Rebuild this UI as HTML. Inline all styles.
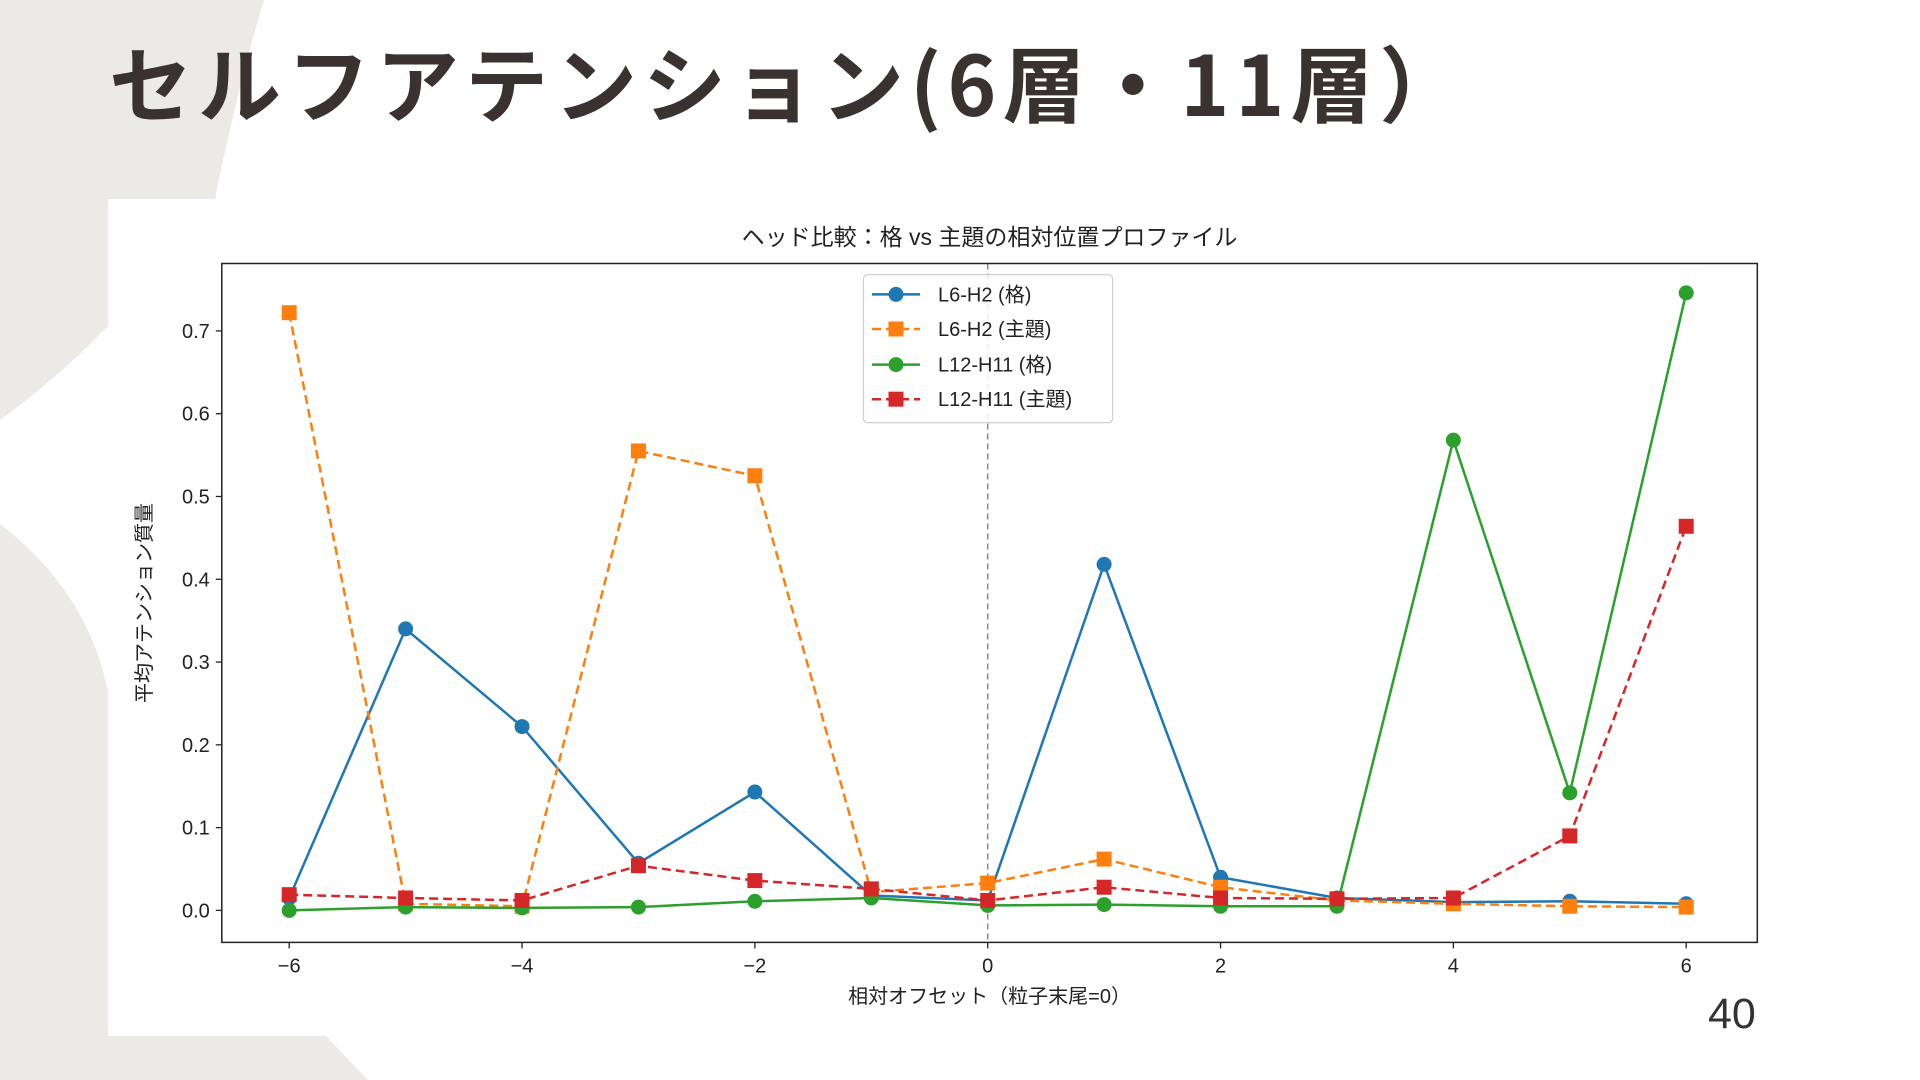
<!DOCTYPE html>
<html><head><meta charset="utf-8">
<style>
html,body{margin:0;padding:0;width:1920px;height:1080px;overflow:hidden;background:#fff;}
body{position:relative;font-family:"Liberation Sans","Noto Sans CJK JP",sans-serif;}
#title{position:absolute;left:109px;top:20px;font-size:83px;font-weight:bold;color:#3a3230;letter-spacing:6px;white-space:nowrap;font-family:"Noto Sans CJK JP","Liberation Sans",sans-serif;}
#page{position:absolute;left:1708px;top:990px;font-size:43px;color:#333;}
svg text{font-family:"Liberation Sans","Noto Sans CJK JP",sans-serif;}
</style></head><body>
<svg width="1920" height="1080" style="position:absolute;left:0;top:0">
<path d="M0 0 L264 0 Q237 90 215 199 L108 199 L108 326 Q60 376 0 420 Z" fill="#ebeae6"/>
<path d="M0 524 Q89 593 108 692 L108 1036 L326 1036 L368 1080 L0 1080 Z" fill="#ebeae6"/>
<rect x="108" y="199" width="1812" height="837" fill="#fff"/>
</svg>
<div id="title">セルフアテンション(6層・11層）</div>
<svg id="chart" width="1920" height="1080" style="position:absolute;left:0;top:0"></svg>
<div id="page">40</div>
<script>
const xCats=[-6,-5,-4,-3,-2,-1,0,1,2,3,4,5,6];
const l6Case=[0.015,0.34,0.222,0.057,0.143,0.018,0.012,0.418,0.04,0.015,0.01,0.011,0.008];
const l6Topic=[0.722,0.008,0.005,0.555,0.525,0.022,0.033,0.062,0.028,0.012,0.008,0.005,0.004];
const l12Case=[0.0,0.004,0.003,0.004,0.011,0.015,0.006,0.007,0.005,0.005,0.568,0.142,0.746];
const l12Topic=[0.019,0.015,0.012,0.054,0.036,0.026,0.012,0.028,0.015,0.014,0.015,0.09,0.464];
const yTicks=[0.0,0.1,0.2,0.3,0.4,0.5,0.6,0.7];
const xTicks=[-6,-4,-2,0,2,4,6];
const seriesNames=["L6-H2 (格)","L6-H2 (主題)","L12-H11 (格)","L12-H11 (主題)"];

const svg=document.getElementById('chart');
const NS='http://www.w3.org/2000/svg';
const L=221.8,R=1757.3,T=263.5,B=942.4;
const X=v=>289.2+(v+6)*(1686.2-289.2)/12;
const Y=v=>910.4-v*(910.4-330.9)/0.7;
function mk(tag,attrs,parent){const e=document.createElementNS(NS,tag);for(const k in attrs)e.setAttribute(k,attrs[k]);(parent||svg).appendChild(e);return e;}

let t=mk('text',{x:(L+R)/2,y:245,'text-anchor':'middle','font-size':23,fill:'#222'});
t.textContent='ヘッド比較：格 vs 主題の相対位置プロファイル';



yTicks.forEach(v=>{
  const g=mk('g',{});
  
  
  mk('line',{x1:L-6,x2:L,y1:Y(v),y2:Y(v),stroke:'#222','stroke-width':1.3},g);
  const tx=mk('text',{x:L-12,y:Y(v)+7,'text-anchor':'end','font-size':20,fill:'#222'},g);
  tx.textContent=v.toFixed(1);
});
xTicks.forEach(v=>{
  const g=mk('g',{});
  
  
  mk('line',{x1:X(v),x2:X(v),y1:B,y2:B+6,stroke:'#222','stroke-width':1.3},g);
  const tx=mk('text',{x:X(v),y:B+30,'text-anchor':'middle','font-size':20,fill:'#222'},g);
  tx.textContent=v<0?'\u2212'+Math.abs(v):String(v);
});
let yl=mk('text',{transform:`translate(151,${(T+B)/2}) rotate(-90)`,'text-anchor':'middle','font-size':20,fill:'#222'});
yl.textContent='平均アテンション質量';


let xl=mk('text',{x:(L+R)/2,y:1003,'text-anchor':'middle','font-size':20,fill:'#222'});
xl.textContent='相対オフセット（粒子末尾=0）';



let vl=mk('line',{x1:X(0),x2:X(0),y1:T,y2:B,stroke:'#888','stroke-width':1.5,'stroke-dasharray':'6,4'});



const specs=[
 {d:l6Case,c:'#1f77b4',dash:null,m:'o',n:'series-l6-case'},
 {d:l6Topic,c:'#ff7f0e',dash:'9,5',m:'s',n:'series-l6-topic'},
 {d:l12Case,c:'#2ca02c',dash:null,m:'o',n:'series-l12-case'},
 {d:l12Topic,c:'#d62728',dash:'9,5',m:'s',n:'series-l12-topic'}
];
function marker(g,m,x,y,c){
  if(m==='o') return mk('circle',{cx:x,cy:y,r:7.5,fill:c},g);
  return mk('rect',{x:x-7.5,y:y-7.5,width:15,height:15,fill:c},g);
}
specs.forEach(s=>{
  const g=mk('g',{});
  
  
  const pts=xCats.map((x,i)=>X(x)+','+Y(s.d[i])).join(' ');
  const a={points:pts,fill:'none',stroke:s.c,'stroke-width':2.5};
  if(s.dash)a['stroke-dasharray']=s.dash;
  mk('polyline',a,g);
  xCats.forEach((x,i)=>{
    const p=marker(g,s.m,X(x),Y(s.d[i]),s.c);
    
    
  });
});

let fr=mk('rect',{x:L,y:T,width:R-L,height:B-T,fill:'none',stroke:'#222','stroke-width':1.5});



const lg=mk('g',{});


mk('rect',{x:863.5,y:274.7,width:249,height:148,rx:4,fill:'rgba(255,255,255,0.85)',stroke:'#ccc','stroke-width':1.2},lg);
const ly=[294.4,329,364.6,399.2];
specs.forEach((s,i)=>{
  const e=mk('g',{},lg);
  
  
  const a={x1:872,x2:920,y1:ly[i],y2:ly[i],stroke:s.c,'stroke-width':2.5};
  if(s.dash)a['stroke-dasharray']='9,5';
  mk('line',a,e);
  marker(e,s.m,896,ly[i],s.c);
  const tx=mk('text',{x:938,y:ly[i]+7,'font-size':20,fill:'#222'},e);
  tx.textContent=seriesNames[i];
});
</script>
</body></html>
